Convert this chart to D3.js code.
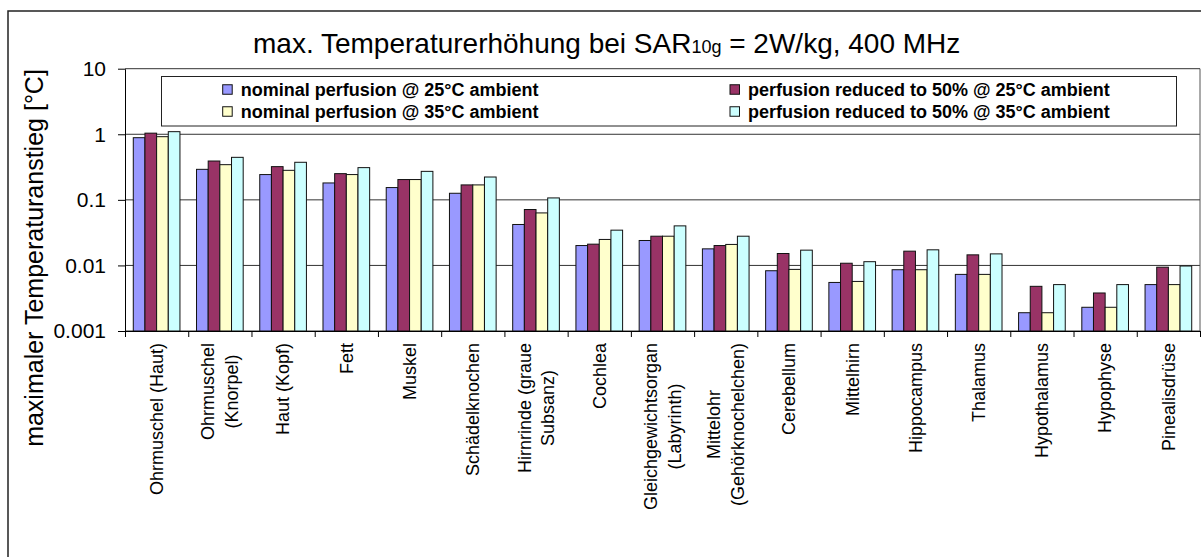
<!DOCTYPE html>
<html>
<head>
<meta charset="utf-8">
<script src="https://cdn.jsdelivr.net/npm/d3@7"></script>
<style>
  html, body { margin: 0; padding: 0; background: #fff; }
  svg { display: block; font-family: "Liberation Sans", Arial, sans-serif; }
</style>
</head>
<body>
<svg id="chart" width="1201" height="557"></svg>
<script>
// Tissue categories (line breaks mark wrapped axis labels)
const categories = [
  "Ohrmuschel (Haut)", "Ohrmuschel\n(Knorpel)", "Haut (Kopf)", "Fett", "Muskel",
  "Schädelknochen", "Hirnrinde (graue\nSubsanz)", "Cochlea",
  "Gleichgewichtsorgan\n(Labyrinth)", "Mittelohr\n(Gehörknochelchen)", "Cerebellum",
  "Mittelhirn", "Hippocampus", "Thalamus", "Hypothalamus", "Hypophyse", "Pinealisdrüse"
];

const seriesNames = [
  "nominal perfusion @ 25°C ambient",
  "perfusion reduced to 50% @ 25°C ambient",
  "nominal perfusion @ 35°C ambient",
  "perfusion reduced to 50% @ 35°C ambient"
];
const seriesColors = ["#9999FF", "#993366", "#FFFFCC", "#CCFFFF"];

// Maximum temperature rise [°C]
const nominal25 = [0.887, 0.292, 0.243, 0.181, 0.154, 0.126, 0.0421, 0.0201, 0.0240, 0.0179, 0.0083, 0.0055, 0.0086, 0.0073, 0.0019, 0.0023, 0.0051];
const reduced25 = [1.04, 0.391, 0.321, 0.251, 0.204, 0.169, 0.0712, 0.0211, 0.0279, 0.0201, 0.0152, 0.0108, 0.0165, 0.0145, 0.0048, 0.0038, 0.0094];
const nominal35 = [0.919, 0.344, 0.282, 0.243, 0.204, 0.169, 0.0632, 0.0249, 0.0279, 0.0209, 0.0087, 0.0057, 0.0086, 0.0073, 0.0019, 0.0023, 0.0051];
const reduced35 = [1.096, 0.445, 0.374, 0.310, 0.272, 0.223, 0.107, 0.0345, 0.0401, 0.0279, 0.0171, 0.0114, 0.0173, 0.0150, 0.0051, 0.0051, 0.0098];

const yTicks = [0.001, 0.01, 0.1, 1, 10];
const yTickLabels = ["0.001", "0.01", "0.1", "1", "10"];

const series = [nominal25, reduced25, nominal35, reduced35];

const svg = d3.select("#chart");
const plot = { left: 125, right: 1200, top: 68.7, bottom: 331 };

// Chart frame
svg.append("rect")
  .attr("x", 8).attr("y", 11)
  .attr("width", 1201).attr("height", 560)
  .attr("fill", "#fff").attr("stroke", "#222").attr("stroke-width", 1.5);

// Scales
const y = d3.scaleLog().domain([0.001, 10]).range([plot.bottom, plot.top]);
const x0 = d3.scaleBand().domain(d3.range(categories.length))
  .range([plot.left, plot.right]).paddingInner(0).paddingOuter(0);
const x1 = d3.scaleBand().domain(d3.range(series.length))
  .range([0, x0.bandwidth()]).paddingInner(0).paddingOuter(0.71);
const xEdge = d3.scaleLinear().domain([0, categories.length]).range([plot.left, plot.right]);

// Gridlines
svg.append("g").selectAll("line").data(yTicks).join("line")
  .attr("x1", plot.left).attr("x2", plot.right)
  .attr("y1", d => y(d)).attr("y2", d => y(d))
  .attr("stroke", "#333").attr("stroke-width", 1);

// Plot area border (right side)
svg.append("line")
  .attr("x1", plot.right).attr("x2", plot.right)
  .attr("y1", plot.top).attr("y2", plot.bottom)
  .attr("stroke", "#555").attr("stroke-width", 1);

// Bars
const groups = svg.append("g").selectAll("g").data(categories).join("g")
  .attr("transform", (d, i) => `translate(${x0(i)},0)`);
groups.selectAll("rect")
  .data((d, i) => series.map((s, k) => ({ k, v: s[i] })))
  .join("rect")
  .attr("x", d => x1(d.k))
  .attr("width", x1.bandwidth())
  .attr("y", d => y(d.v))
  .attr("height", d => y(0.001) - y(d.v))
  .attr("fill", d => seriesColors[d.k])
  .attr("stroke", "#111").attr("stroke-width", 1);

// Y axis
const yAxis = svg.append("g")
  .attr("transform", `translate(${plot.left},0)`)
  .call(d3.axisLeft(y).tickValues(yTicks).tickFormat((d, i) => yTickLabels[i])
    .tickSize(7).tickSizeOuter(0).tickPadding(12));
yAxis.selectAll("text").attr("font-size", 21).attr("fill", "#000")
  .attr("font-family", "\"Liberation Sans\", Arial, sans-serif");
yAxis.selectAll("line,path").attr("stroke", "#000");

// X axis (ticks at category boundaries)
const xAxis = svg.append("g")
  .attr("transform", `translate(0,${plot.bottom})`)
  .call(d3.axisBottom(xEdge).tickValues(d3.range(categories.length + 1))
    .tickFormat("").tickSize(6).tickSizeOuter(0));
xAxis.selectAll("line,path").attr("stroke", "#000");

// Category labels, rotated, lines centred on each other
const labelTop = 343;
const lineGap = 23.5;
categories.forEach((name, i) => {
  const lines = name.split("\n");
  const cx = x0(i) + x0.bandwidth() / 2;
  const g = svg.append("g");
  const texts = lines.map(t => g.append("text")
    .attr("font-size", 18).attr("fill", "#000")
    .attr("text-anchor", "middle").attr("dy", "0.35em").text(t));
  const maxLen = d3.max(texts, t => t.node().getComputedTextLength());
  const cy = labelTop + maxLen / 2;
  texts.forEach((t, j) => {
    const off = (j - (lines.length - 1) / 2) * lineGap;
    t.attr("transform", `translate(${cx + off},${cy}) rotate(-90)`);
  });
});

// Y axis title
svg.append("text")
  .attr("transform", "translate(43,258) rotate(-90)")
  .attr("text-anchor", "middle")
  .attr("font-size", 25).attr("fill", "#000")
  .text("maximaler Temperaturanstieg [°C]");

// Chart title
const title = svg.append("text")
  .attr("x", 253).attr("y", 52.5)
  .attr("font-size", 28).attr("fill", "#000")
  .style("white-space", "pre");
title.append("tspan").text("max. Temperaturerhöhung bei SAR");
title.append("tspan").attr("font-size", 18).text("10g");
title.append("tspan").text(" = 2W/kg, 400 MHz");

// Legend
const legend = svg.append("g");
legend.append("rect")
  .attr("x", 161.5).attr("y", 76.5).attr("width", 1015).attr("height", 49.5)
  .attr("fill", "#fff").attr("stroke", "#222").attr("stroke-width", 1);
const legendCols = [222.7, 730];
const legendRows = [89.5, 111.5];
const legendOrder = [[0, 0], [1, 0], [0, 1], [1, 1]]; // [col,row] per series
legendOrder.forEach(([c, r], k) => {
  legend.append("rect")
    .attr("x", legendCols[c]).attr("y", legendRows[r] - 4.75)
    .attr("width", 9.5).attr("height", 9.5)
    .attr("fill", seriesColors[k]).attr("stroke", "#111").attr("stroke-width", 1);
  legend.append("text")
    .attr("x", legendCols[c] + 18).attr("y", legendRows[r]).attr("dy", "0.35em")
    .attr("font-size", 18).attr("font-weight", "bold").attr("fill", "#000")
    .text(seriesNames[k]);
});
</script>
</body>
</html>
